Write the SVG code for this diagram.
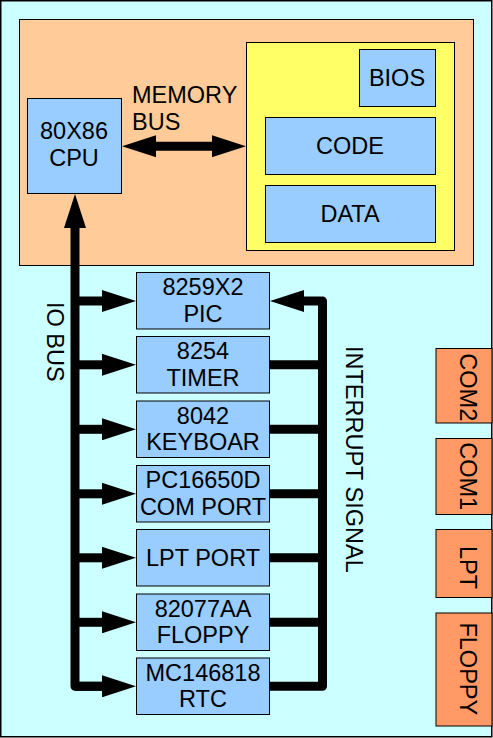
<svg xmlns="http://www.w3.org/2000/svg" width="493" height="738" viewBox="0 0 493 738">
<style>
text{font-family:"Liberation Sans",Arial,sans-serif;font-size:23.5px;fill:#000}
.c{text-anchor:middle}
.blue{fill:#99ccff;stroke:#000;stroke-width:1}
.port{fill:#ff9966;stroke:#000;stroke-width:1}
.bus{fill:none;stroke:#000;stroke-width:9;stroke-linejoin:round;stroke-linecap:butt}
</style>
<defs>
<marker id="ah" viewBox="0 -11 34 22" markerWidth="34" markerHeight="22" refX="0" refY="0" markerUnits="userSpaceOnUse" orient="auto-start-reverse">
<path d="M0,-11 L34,0 L0,11 z" fill="#000"/>
</marker>
</defs>
<rect x="0.75" y="0.75" width="491" height="736" fill="#ccffff" stroke="#000" stroke-width="1.5"/>
<g id="board">
<rect x="19.5" y="19.5" width="454" height="246" fill="#ffcc99" stroke="#000" stroke-width="1"/>
</g>
<g id="memory">
<rect x="246.5" y="42.5" width="208" height="208" fill="#ffff66" stroke="#000" stroke-width="1"/>
</g>
<g id="bios"><rect class="blue" x="359.5" y="49.5" width="76" height="57"/><text class="c" x="397" y="86">BIOS</text></g>
<g id="code"><rect class="blue" x="265.5" y="117.5" width="170" height="57"/><text class="c" x="350" y="154">CODE</text></g>
<g id="data"><rect class="blue" x="265.5" y="185.5" width="170" height="57"/><text class="c" x="350" y="221.7">DATA</text></g>
<g id="cpu"><rect class="blue" x="27.5" y="98.5" width="94" height="95"/><text class="c" x="74" y="139.3">80X86</text><text class="c" x="74" y="166">CPU</text></g>
<g id="memory-bus-label"><text x="132" y="103.3">MEMORY</text><text x="132" y="130">BUS</text></g>
<g id="pic"><rect class="blue" x="136.5" y="272.5" width="133" height="56.5"/><text class="c" x="203" y="295">8259X2</text><text class="c" x="203" y="321.5">PIC</text></g>
<g id="timer"><rect class="blue" x="136.5" y="336.5" width="133" height="56.5"/><text class="c" x="203" y="359.2">8254</text><text class="c" x="203" y="385.5">TIMER</text></g>
<g id="keyboard"><rect class="blue" x="136.5" y="401" width="133" height="56.5"/><text class="c" x="203" y="423.7">8042</text><text class="c" x="203" y="450">KEYBOAR</text></g>
<g id="comport"><rect class="blue" x="136.5" y="465.5" width="133" height="56.5"/><text class="c" x="203" y="488.2">PC16650D</text><text class="c" x="203" y="514.5">COM PORT</text></g>
<g id="lptport"><rect class="blue" x="136.5" y="529.5" width="133" height="56.5"/><text class="c" x="203" y="566">LPT PORT</text></g>
<g id="floppyctl"><rect class="blue" x="136.5" y="594" width="133" height="56.5"/><text class="c" x="203" y="616.7">82077AA</text><text class="c" x="203" y="643">FLOPPY</text></g>
<g id="rtc"><rect class="blue" x="136.5" y="658" width="133" height="56.5"/><text class="c" x="203" y="680.7">MC146818</text><text class="c" x="203" y="707">RTC</text></g>
<g id="com2"><rect class="port" x="436" y="348.5" width="56" height="74.5"/><text class="c" transform="translate(459.5,387.3) rotate(90)">COM2</text></g>
<g id="com1"><rect class="port" x="436" y="438.5" width="56" height="76"/><text class="c" transform="translate(459.5,476.2) rotate(90)">COM1</text></g>
<g id="lpt"><rect class="port" x="436" y="529.5" width="56" height="68"/><text class="c" transform="translate(459.5,567.5) rotate(90)">LPT</text></g>
<g id="floppy"><rect class="port" x="436" y="613" width="56" height="113"/><text class="c" transform="translate(459.5,668.8) rotate(90)">FLOPPY</text></g>
<g id="labels">
<text transform="translate(47,302) rotate(90)">IO BUS</text>
<text transform="translate(346,346) rotate(90)">INTERRUPT SIGNAL</text>
</g>
<g id="connectors">
<path class="bus" d="M156,146.2 H212" marker-start="url(#ah)" marker-end="url(#ah)"/>
<path class="bus" d="M103,686.3 H75 V228" marker-end="url(#ah)"/>
<path class="bus" d="M75,686.3 H102" marker-end="url(#ah)"/>
<path class="bus" d="M75,301 H102" marker-end="url(#ah)"/>
<path class="bus" d="M75,364.8 H102" marker-end="url(#ah)"/>
<path class="bus" d="M75,429.3 H102" marker-end="url(#ah)"/>
<path class="bus" d="M75,493.8 H102" marker-end="url(#ah)"/>
<path class="bus" d="M75,557.8 H102" marker-end="url(#ah)"/>
<path class="bus" d="M75,622.3 H102" marker-end="url(#ah)"/>
<path class="bus" d="M270,686.3 H322.5 V301 H304" marker-end="url(#ah)"/>
<path class="bus" d="M270,364.8 H322.5"/>
<path class="bus" d="M270,429.3 H322.5"/>
<path class="bus" d="M270,493.8 H322.5"/>
<path class="bus" d="M270,557.8 H322.5"/>
<path class="bus" d="M270,622.3 H322.5"/>
</g>
</svg>
